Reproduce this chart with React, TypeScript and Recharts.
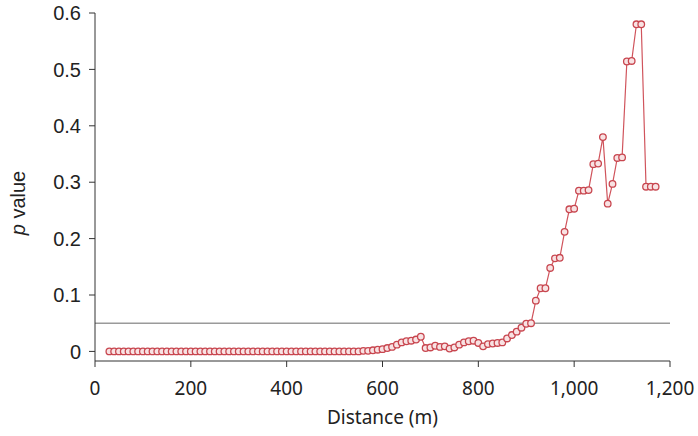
import { LineChart, Line, XAxis, YAxis, ReferenceLine } from "recharts";

const distances = [
  30, 40, 50, 60, 70, 80, 90, 100, 110, 120, 130, 140, 150, 160, 170, 180, 190, 200,
  210, 220, 230, 240, 250, 260, 270, 280, 290, 300, 310, 320, 330, 340, 350, 360,
  370, 380, 390, 400, 410, 420, 430, 440, 450, 460, 470, 480, 490, 500, 510, 520,
  530, 540, 550, 560, 570, 580, 590, 600, 610, 620, 630, 640, 650, 660, 670, 680,
  690, 700, 710, 720, 730, 740, 750, 760, 770, 780, 790, 800, 810, 820, 830, 840,
  850, 860, 870, 880, 890, 900, 910, 920, 930, 940, 950, 960, 970, 980, 990, 1000,
  1010, 1020, 1030, 1040, 1050, 1060, 1070, 1080, 1090, 1100, 1110, 1120, 1130,
  1140, 1150, 1160, 1170,
];

const pValues = [
  0, 0, 0, 0, 0, 0, 0, 0, 0, 0, 0, 0, 0, 0, 0, 0, 0, 0,
  0, 0, 0, 0, 0, 0, 0, 0, 0, 0, 0, 0, 0, 0, 0, 0,
  0, 0, 0, 0, 0, 0, 0, 0, 0, 0, 0, 0, 0, 0, 0, 0,
  0, 0, 0, 0.001, 0.001, 0.002, 0.003, 0.004, 0.006, 0.008, 0.012, 0.016, 0.018, 0.019, 0.021, 0.026,
  0.006, 0.007, 0.01, 0.008, 0.009, 0.005, 0.007, 0.012, 0.016, 0.018, 0.019, 0.015, 0.009, 0.013, 0.014, 0.015,
  0.016, 0.023, 0.029, 0.035, 0.042, 0.049, 0.05, 0.09, 0.112, 0.112, 0.148, 0.165, 0.166, 0.212, 0.252, 0.253,
  0.285, 0.285, 0.286, 0.332, 0.333, 0.38, 0.262, 0.297, 0.343, 0.344, 0.514, 0.515, 0.58,
  0.58, 0.292, 0.292, 0.292,
];

const xTicks = [0, 200, 400, 600, 800, 1000, 1200];
const yTicks = [0, 0.1, 0.2, 0.3, 0.4, 0.5, 0.6];
const threshold = 0.05;

const data = distances.map((d, i) => ({ distance: d, p: pValues[i] }));

const YLabel = ({ viewBox }: any) => {
  const cy = viewBox.y + viewBox.height / 2 + 16;
  return (
    <text x={25} y={cy} transform={`rotate(-90, 25, ${cy})`} textAnchor="middle"
      fontFamily="'Liberation Sans', Arial, sans-serif" fontSize={20} fill="#222">
      <tspan fontStyle="italic">p</tspan> value
    </text>
  );
};

export default function App() {
  return (
    <div style={{ position: "absolute", left: 0, top: 0, background: "#fff" }}>
      <LineChart width={698} height={436} data={data} margin={{ top: 13, right: 28, bottom: 0, left: 0 }}>
        <XAxis
          dataKey="distance" type="number" domain={[0, 1200]} ticks={xTicks}
          tickFormatter={(v) => v.toLocaleString("en-US")}
          stroke="#333" tickSize={6} tickMargin={15} height={75}
          tick={{ fontSize: 19, fill: "#222", fontFamily: "'Noto Sans', sans-serif" }}
          label={{ value: "Distance (m)", position: "insideBottom", offset: 12, fontSize: 19, fill: "#222", fontFamily: "'Noto Sans', sans-serif" }}
        />
        <YAxis
          type="number" domain={[-0.017, 0.6]} ticks={yTicks} allowDataOverflow
          stroke="#333" tickSize={6} tickMargin={8} width={95}
          tick={{ fontSize: 20, fill: "#222", fontFamily: "'Liberation Sans', Arial, sans-serif" }}
          label={<YLabel />}
        />
        <ReferenceLine y={threshold} stroke="#9a9a9a" strokeWidth={1.5} />
        <Line
          dataKey="p" stroke="#d0545c" strokeWidth={1.2} isAnimationActive={false}
          dot={{ r: 3.3, stroke: "#c8464f", strokeWidth: 1.3, fill: "#f8e2e3" }}
        />
      </LineChart>
    </div>
  );
}
